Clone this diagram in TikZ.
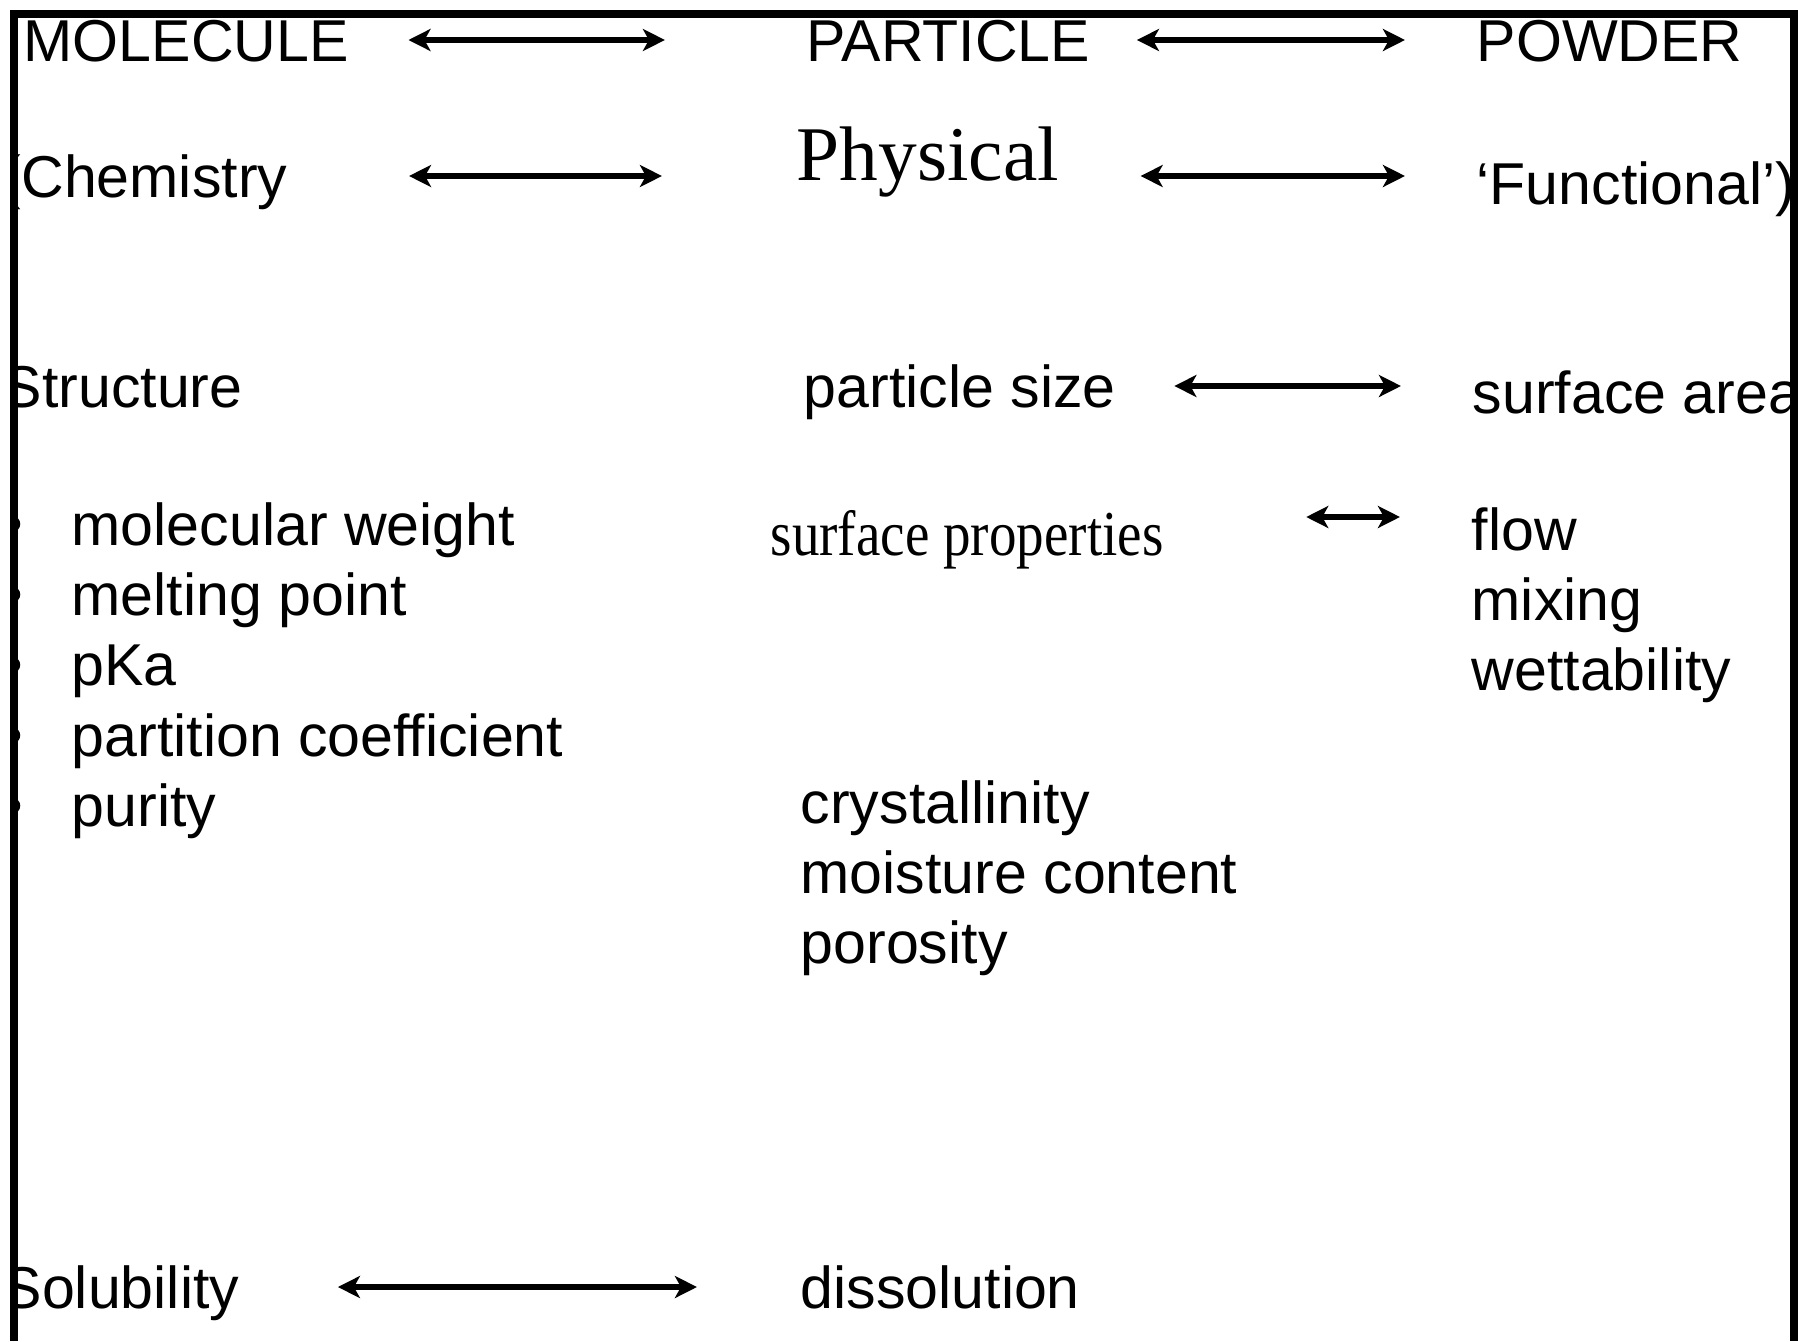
\documentclass[tikz,border=0pt]{standalone}
\usepackage{fontspec}
\setmainfont{Liberation Sans}
\newfontfamily\timesface{Liberation Serif}
\newfontfamily\narrowtimes[FakeStretch=0.86]{Liberation Serif}
\usetikzlibrary{arrows.meta, positioning}

\begin{document}
\begin{tikzpicture}[
        x=0.01cm, y=-0.01cm,
        txt/.style={inner sep=0pt, anchor=base west, text height=4.2mm, text depth=0pt, font=\fontsize{16.8}{20}\selectfont},
        arr/.style={{Stealth[length=2.2mm, width=2.2mm, inset=0.6mm]}-{Stealth[length=2.2mm, width=2.2mm, inset=0.6mm]}, line width=1.5pt},
        dot/.style={circle, fill=black, inner sep=0pt, minimum size=1.6mm},
        frame/.style={line width=2.2pt},
        node distance=2.7mm
        ]
        \useasboundingbox (0,0) rectangle (1798,1341);
        \begin{scope}
        \clip (14,14) rectangle (1794,1341);
        % top rows
        \node[txt] (mol)  at (23,61)   {MOLECULE};
        \node[txt] (part) at (806,61)  {PARTICLE};
        \node[txt] (powd) at (1476,61) {POWDER};
        \node[txt] (chem) at (1,197)   {(Chemistry};
        \node[txt, text height=5.2mm, font=\timesface\fontsize{22}{26}\selectfont] (phys) at (796,180) {Physical};
        \node[txt] (func) at (1476,204) {‘Functional’)};
        \draw[arr, shorten <=5.9mm, shorten >=14.1mm] (mol) -- (part);
        \draw[arr, shorten <=4.6mm, shorten >=7.1mm] (part) -- (powd);
        \draw[arr, shorten <=12.1mm, shorten >=13.4mm] (chem.east) -- (chem.east -| phys.west);
        \draw[arr, shorten <=8.1mm, shorten >=7.1mm] (chem.east -| phys.east) -- (chem.east -| func.west);

        % molecule column
        \node[txt] (struct) at (2,407) {Structure};
        \node[txt] (mw) at (71,545) {molecular weight};
        \node[txt, below right=2.7mm and 0mm of mw.south west] (mp) {melting point};
        \node[txt, below right=2.7mm and 0mm of mp.south west] (pka) {pKa};
        \node[txt, below right=2.7mm and 0mm of pka.south west] (pc) {partition coefficient};
        \node[txt, below right=2.7mm and 0mm of pc.south west] (pur) {purity};
        \node[dot, left=5.0mm of mw]  (b1) {};
        \node[dot, left=5.0mm of mp]  (b2) {};
        \node[dot, left=5.0mm of pka] (b3) {};
        \node[dot, left=5.0mm of pc]  (b4) {};
        \node[dot, left=5.0mm of pur] (b5) {};

        % particle column
        \node[txt] (psize) at (803,407) {particle size};
        \node[txt, text height=3mm, font=\narrowtimes\fontsize{18.2}{22}\selectfont] (sprop) at (770,555) {surface properties};
        \node[txt] (cryst) at (800,823) {crystallinity};
        \node[txt, below right=2.7mm and 0mm of cryst.south west] (moist) {moisture content};
        \node[txt, below right=2.7mm and 0mm of moist.south west] (poros) {porosity};

        % powder column
        \node[txt] (sarea) at (1472,413) {surface area};
        \node[txt] (flow) at (1471,550) {flow};
        \node[txt, below right=2.7mm and 0mm of flow.south west] (mix) {mixing};
        \node[txt, below right=2.7mm and 0mm of mix.south west] (wett) {wettability};
        \coordinate[above=1.2mm of flow.west] (flowarr);
        \draw[arr, shorten <=5.8mm, shorten >=7.1mm] (psize.east) -- (psize.east -| sarea.west);
        \draw[arr, shorten <=14.2mm, shorten >=7.1mm] (flowarr -| sprop.east) -- (flowarr);

        % bottom row
        \node[txt] (solub)  at (2,1308)   {Solubility};
        \node[txt] (dissol) at (800,1308) {dissolution};
        \draw[arr, shorten <=9.8mm, shorten >=10.3mm] (solub) -- (dissol);
        \end{scope}
        \draw[frame] (14,1341) -- (14,14) -- (1794,14) -- (1794,1341);
    \end{tikzpicture}
\end{document}
